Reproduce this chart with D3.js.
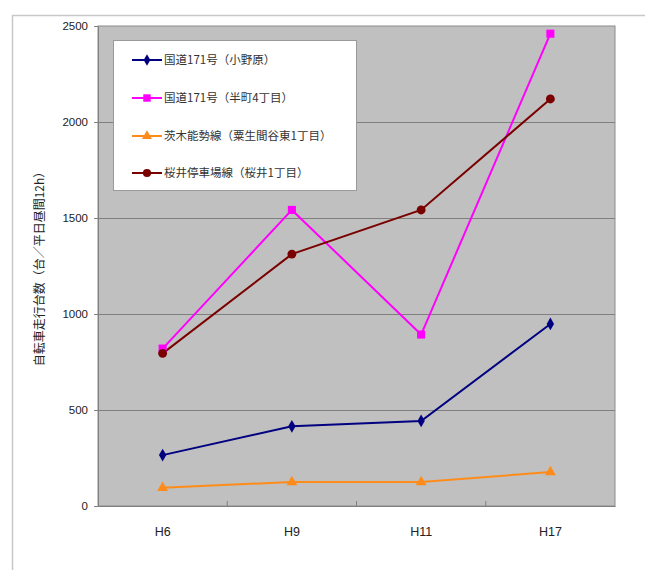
<!DOCTYPE html>
<html>
<head>
<meta charset="utf-8">
<script src="https://cdn.jsdelivr.net/npm/d3@7/dist/d3.min.js"></script>
<style>
  html, body { margin: 0; padding: 0; background: #fff; }
  svg { display: block; }
  text { font-family: "Liberation Sans", Arial, "Noto Sans CJK JP", sans-serif; }
  .jp { font-family: "Noto Sans CJK JP", sans-serif; }
</style>
</head>
<body>
<svg id="chart" width="645" height="570"></svg>
<script>
// Survey years (Heisei era)
const categories = ["H6", "H9", "H11", "H17"];

// Bicycle counts per site (vehicles / weekday daytime 12h)
const onoharaValues   = [265, 415, 443, 948];
const hanmachiValues  = [820, 1542, 893, 2460];
const aomataniValues  = [95, 125, 125, 177];
const sakuraiValues   = [795, 1312, 1542, 2120];

const yTicks = [0, 500, 1000, 1500, 2000, 2500];

const seriesNames = [
  "国道171号（小野原）",
  "国道171号（半町4丁目）",
  "茨木能勢線（粟生間谷東1丁目）",
  "桜井停車場線（桜井1丁目）"
];
const seriesColors = ["#000080", "#FF00FF", "#FF8C1A", "#7A0000"];
const seriesMarkers = [d3.symbolDiamond, d3.symbolSquare, d3.symbolTriangle, d3.symbolCircle];
const markerSizes = [36, 50, 40, 48];

const series = [onoharaValues, hanmachiValues, aomataniValues, sakuraiValues].map((vals, i) => ({
  name: seriesNames[i],
  color: seriesColors[i],
  marker: seriesMarkers[i],
  size: markerSizes[i],
  values: vals
}));

const svg = d3.select("#chart");

// Outer chart frame
svg.append("rect")
  .attr("x", 12.5).attr("y", 15.5)
  .attr("width", 700).attr("height", 600)
  .attr("fill", "#fff")
  .attr("stroke", "#c8c8c8").attr("stroke-width", 1.5);

const plot = { left: 98, right: 615, top: 26, bottom: 506 };

const x = d3.scaleBand().domain(categories).range([plot.left, plot.right]).padding(0);
const y = d3.scaleLinear().domain([0, 2500]).range([plot.bottom, plot.top]);

// Plot area background
svg.append("rect")
  .attr("x", plot.left).attr("y", plot.top)
  .attr("width", plot.right - plot.left).attr("height", plot.bottom - plot.top)
  .attr("fill", "#C0C0C0")
  .attr("stroke", "#8c8c8c").attr("stroke-width", 1);

// Horizontal gridlines
svg.append("g")
  .selectAll("line")
  .data(yTicks.filter(d => d > 0 && d < 2500))
  .join("line")
  .attr("x1", plot.left).attr("x2", plot.right)
  .attr("y1", d => Math.round(y(d)) + 0.5).attr("y2", d => Math.round(y(d)) + 0.5)
  .attr("stroke", "#808080").attr("stroke-width", 1.2);

// Y axis
const yAxis = svg.append("g")
  .attr("transform", `translate(${plot.left},0)`)
  .call(d3.axisLeft(y).tickValues(yTicks).tickSize(4).tickPadding(6).tickFormat(d3.format("d")));
yAxis.select(".domain").attr("stroke", "#808080");
yAxis.selectAll(".tick line").attr("stroke", "#808080");
yAxis.selectAll(".tick text")
  .attr("font-size", 11.5).attr("fill", "#222")
  .attr("font-family", "Liberation Sans, Arial, sans-serif");

// X axis
const xAxis = svg.append("g")
  .attr("transform", `translate(0,${plot.bottom})`)
  .call(d3.axisBottom(x).tickSize(0).tickPadding(21));
xAxis.select(".domain").attr("stroke", "#808080");
xAxis.selectAll(".tick text")
  .attr("font-size", 12.5).attr("fill", "#222")
  .attr("font-family", "Liberation Sans, Arial, sans-serif");

// Category boundary tick marks
svg.append("g")
  .selectAll("line")
  .data(categories.slice(1))
  .join("line")
  .attr("x1", d => x(d)).attr("x2", d => x(d))
  .attr("y1", plot.bottom - 5).attr("y2", plot.bottom)
  .attr("stroke", "#808080");

// Y axis title
svg.append("text")
  .attr("class", "jp")
  .attr("transform", `translate(44,${(plot.top + plot.bottom) / 2}) rotate(-90)`)
  .attr("text-anchor", "middle")
  .attr("font-size", 12)
  .attr("fill", "#222")
  .text("自転車走行台数（台／平日昼間12h）");

// Series lines and markers
const line = d3.line()
  .x((d, i) => x(categories[i]) + x.bandwidth() / 2)
  .y(d => y(d));

const gSeries = svg.append("g");
series.forEach(s => {
  gSeries.append("path")
    .datum(s.values)
    .attr("d", line)
    .attr("fill", "none")
    .attr("stroke", s.color)
    .attr("stroke-width", 2);
});
series.forEach(s => {
  gSeries.append("g")
    .selectAll("path")
    .data(s.values)
    .join("path")
    .attr("transform", (d, i) => `translate(${x(categories[i]) + x.bandwidth() / 2},${y(d)})`)
    .attr("d", d3.symbol().type(s.marker).size(s.size * 1.3))
    .attr("fill", s.color);
});

// Legend
const legend = svg.append("g");
legend.append("rect")
  .attr("x", 113.5).attr("y", 40.5)
  .attr("width", 243).attr("height", 150)
  .attr("fill", "#fff")
  .attr("stroke", "#9a9a9a").attr("stroke-width", 1);

const rowY = [60, 98, 136, 173];
series.forEach((s, i) => {
  const row = legend.append("g").attr("transform", `translate(0,${rowY[i]})`);
  row.append("line")
    .attr("x1", 132).attr("x2", 162)
    .attr("y1", 0).attr("y2", 0)
    .attr("stroke", s.color).attr("stroke-width", 2);
  row.append("path")
    .attr("transform", "translate(147,0)")
    .attr("d", d3.symbol().type(s.marker).size(s.size * 1.1))
    .attr("fill", s.color);
  row.append("text")
    .attr("class", "jp")
    .attr("x", 164).attr("y", 0)
    .attr("dy", "0.35em")
    .attr("font-size", 11.5)
    .attr("fill", "#333")
    .text(s.name);
});
</script>
</body>
</html>
